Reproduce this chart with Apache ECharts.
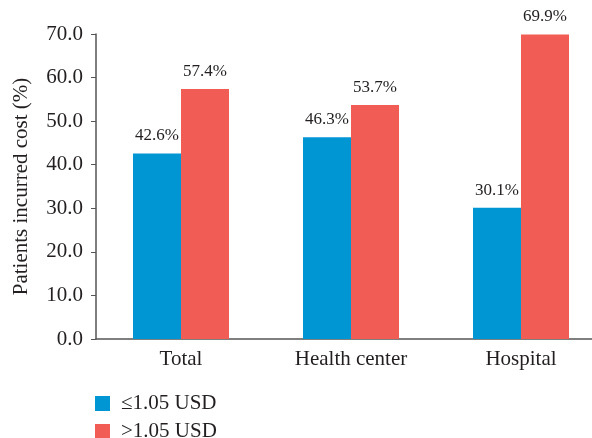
<!DOCTYPE html>
<html>
<head>
<meta charset="utf-8" />
<title></title>
<script type="text/javascript" src="https://cdn.jsdelivr.net/npm/echarts@6/dist/echarts.min.js"></script>
<style type="text/css">
	body { margin: 0; background: #fff; }
	#main { width: 592px; height: 438px; }
</style>
</head>
<body>
<div id="main"></div>
<script type="text/javascript">
	var categories = ['Total', 'Health center', 'Hospital'];
	var lowCost = [42.6, 46.3, 30.1];   // ≤1.05 USD
	var highCost = [57.4, 53.7, 69.9];  // >1.05 USD
	var yTicks = [0, 10, 20, 30, 40, 50, 60, 70];

	var font = '"Liberation Serif", "DejaVu Serif", serif';
	var txt = '#231f20';
	var myChart = echarts.init(document.getElementById('main'));

	// two legends stacked, one per series
	function legendAt(top, name) {
		return {
			left: 95, top: top, padding: 0,
			itemWidth: 15, itemHeight: 15, itemGap: 0,
			icon: 'rect',
			textStyle: { fontFamily: font, fontSize: 21, color: txt, padding: [0, 0, 0, 6] },
			data: [name]
		};
	}

	var option = {
		animation: false,
		textStyle: { fontFamily: font },
		legend: [legendAt(393, '≤1.05 USD'), legendAt(421, '>1.05 USD')],
		// plot runs past the right edge of the canvas, like the reference
		grid: { left: 96, width: 510, top: 34, bottom: 99, containLabel: false, outerBoundsMode: 'none' },
		xAxis: {
			type: 'category',
			data: categories,
			axisLine: { lineStyle: { color: '#555', width: 1.5 } },
			axisTick: { show: false },
			axisLabel: { fontFamily: font, fontSize: 21, color: txt, margin: 10 }
		},
		yAxis: {
			type: 'value',
			min: yTicks[0],
			max: yTicks[yTicks.length - 1],
			interval: 10,
			name: 'Patients incurred cost (%)',
			nameLocation: 'middle',
			nameGap: 64,
			nameTextStyle: { fontFamily: font, fontSize: 21, color: txt },
			splitLine: { show: false },
			axisLine: { show: true, lineStyle: { color: '#555', width: 1.5 } },
			axisTick: { show: true, length: 5, lineStyle: { color: '#555' } },
			axisLabel: {
				fontFamily: font, fontSize: 21, color: txt, margin: 13,
				formatter: function (v) { return v.toFixed(1); }
			}
		},
		series: [{
				name: '≤1.05 USD',
				type: 'bar',
				barWidth: 48,
				barGap: '0%',
				itemStyle: { color: '#0095d3' },
				label: {
					show: true, position: 'top', distance: 9,
					fontFamily: font, fontSize: 17, color: txt,
					formatter: function (p) { return p.value.toFixed(1) + '%'; }
				},
				data: lowCost
			},
			{
				name: '>1.05 USD',
				type: 'bar',
				barWidth: 48,
				itemStyle: { color: '#f15c55' },
				label: {
					show: true, position: 'top', distance: 9,
					fontFamily: font, fontSize: 17, color: txt,
					formatter: function (p) { return p.value.toFixed(1) + '%'; }
				},
				data: highCost
			}
		]
	};
	myChart.setOption(option, true);
</script>
</body>
</html>
